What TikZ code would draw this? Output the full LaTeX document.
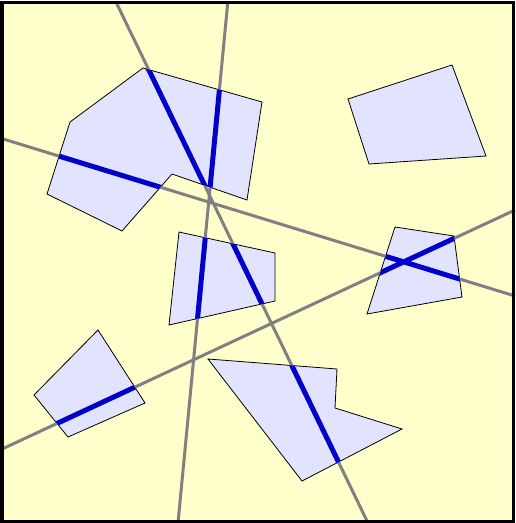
\documentclass[tikz,border=0pt]{standalone}
\definecolor{bgyellow}{HTML}{FFFFCC}
\definecolor{polyfill}{HTML}{E2E4FF}
\definecolor{sblue}{HTML}{0000C8}
\definecolor{lgray}{HTML}{808080}
\begin{document}
\begin{tikzpicture}[x=1pt,y=-1pt,
  poly/.style={fill=polyfill,draw=black,line width=0.8pt},
  gline/.style={draw=lgray,line width=3pt},
  bline/.style={draw=sblue,line width=5pt}]
\useasboundingbox (0,0) rectangle (515,523);
\fill[bgyellow] (2,2) rectangle (513,521);
% line end points
\coordinate (a1) at (115,0); \coordinate (a2) at (368,523);
\coordinate (b1) at (228,0); \coordinate (b2) at (178,523);
\coordinate (c1) at (0,138); \coordinate (c2) at (515,296);
\coordinate (d1) at (0,450); \coordinate (d2) at (515,210);
% polygons
\path[poly] (143,68) -- (262,102) -- (247,200) -- (172,174) -- (122,231) -- (47,194) -- (70,122) -- cycle;
\path[poly] (348,99) -- (452,65) -- (486,156) -- (369,164) -- cycle;
\path[poly] (395,227) -- (454,236) -- (462,297) -- (367,314) -- cycle;
\path[poly] (179,232) -- (275,253) -- (275,301) -- (169,325) -- cycle;
\path[poly] (98,330) -- (145,403) -- (68,437) -- (34,395) -- cycle;
\path[poly] (208,359) -- (337,369) -- (335,408) -- (402,429) -- (302,481) -- cycle;
% gray lines
\draw[gline] (a1) -- (a2);
\draw[gline] (b1) -- (b2);
\draw[gline] (c1) -- (c2);
\draw[gline] (d1) -- (d2);
% blue clipped parts
\begin{scope}
\clip (143,68) -- (262,102) -- (247,200) -- (172,174) -- (122,231) -- (47,194) -- (70,122) -- cycle;
\draw[bline] (a1) -- (a2) (b1) -- (b2) (c1) -- (c2) (d1) -- (d2);
\end{scope}
\begin{scope}
\clip (395,227) -- (454,236) -- (462,297) -- (367,314) -- cycle;
\draw[bline] (a1) -- (a2) (b1) -- (b2) (c1) -- (c2) (d1) -- (d2);
\end{scope}
\begin{scope}
\clip (179,232) -- (275,253) -- (275,301) -- (169,325) -- cycle;
\draw[bline] (a1) -- (a2) (b1) -- (b2) (c1) -- (c2) (d1) -- (d2);
\end{scope}
\begin{scope}
\clip (98,330) -- (145,403) -- (68,437) -- (34,395) -- cycle;
\draw[bline] (a1) -- (a2) (b1) -- (b2) (c1) -- (c2) (d1) -- (d2);
\end{scope}
\begin{scope}
\clip (208,359) -- (337,369) -- (335,408) -- (402,429) -- (302,481) -- cycle;
\draw[bline] (a1) -- (a2) (b1) -- (b2) (c1) -- (c2) (d1) -- (d2);
\end{scope}
% white outside margin + border
\fill[white,even odd rule] (0,0) rectangle (515,523) (2,2) rectangle (513,521);
\draw[black,line width=3pt] (2,2) rectangle (513,521);
\end{tikzpicture}
\end{document}
